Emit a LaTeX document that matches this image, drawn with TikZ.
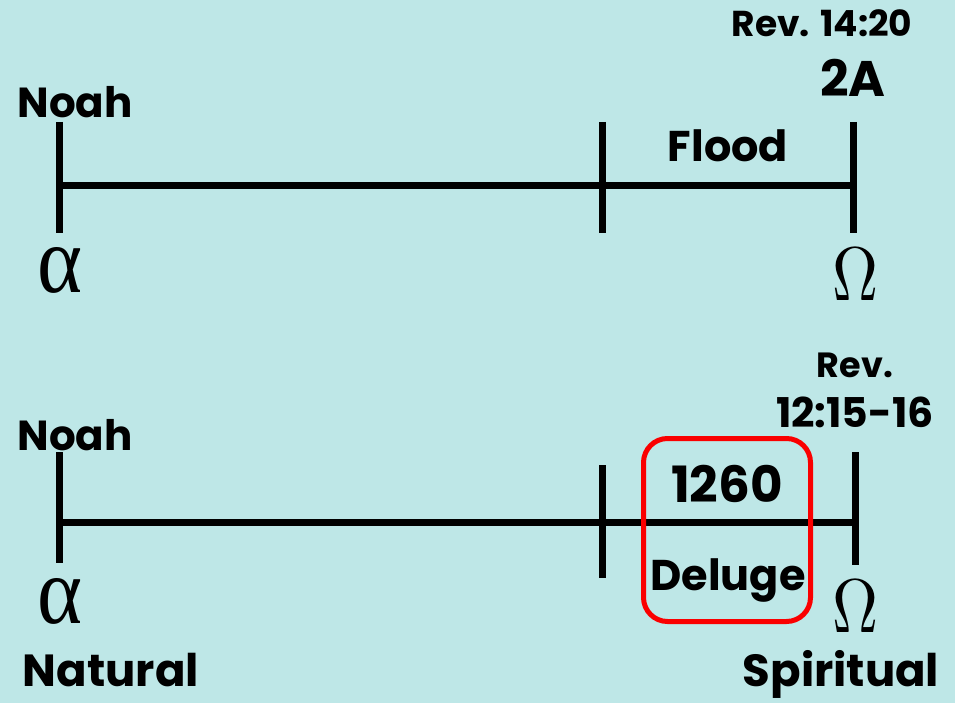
\documentclass[tikz,border=0pt]{standalone}
\usepackage{fontspec}
\setmainfont{Poppins}
\newfontfamily\serifgreek{Liberation Serif}
\usepackage{graphicx}
\definecolor{bgcyan}{RGB}{190,231,231}
\definecolor{boxred}{RGB}{250,0,0}

\begin{document}
\begin{tikzpicture}[x=1pt,y=-1pt]
  \tikzstyle{axis}=[line width=7pt]
  \tikzstyle{tick}=[line width=7pt]
  \tikzstyle{lbl}=[anchor=base,inner sep=0pt,font=\bfseries]
  \tikzstyle{greek}=[anchor=center,inner sep=0pt]
  \tikzstyle{redbox}=[draw=boxred,line width=5pt,rounded corners=24pt,
                      minimum width=167pt,minimum height=183pt]
  \fill[bgcyan] (0,0) rectangle (955,703);
  \useasboundingbox (0,0) rectangle (955,703);
  % natural timeline
  \coordinate (alphaA) at (59,186);
  \coordinate (omegaA) at (853,186);
  \draw[axis] (alphaA) -- (omegaA);
  % spiritual timeline
  \coordinate (alphaB) at (59,522);
  \coordinate (omegaB) at (858,522);
  \draw[axis] (alphaB) -- (omegaB);
  \foreach \x/\a/\b in {59/122/233,602/122/233,853/122/233,
                        59/452/563,602/465/578,855/452/565}
    \draw[tick] (\x,\a) -- (\x,\b);
  \node[redbox] (deluge) at (727,530) {};
  % labels
  \node[lbl,font=\bfseries\fontsize{42}{42}\selectfont] (noahA) at (75,118) {Noah};
  \node[lbl,font=\bfseries\fontsize{36}{36}\selectfont] (revA) at (822,37) {Rev. 14:20};
  \node[lbl,font=\bfseries\fontsize{50}{50}\selectfont] (twoA) at (853,97) {2A};
  \node[lbl,font=\bfseries\fontsize{43}{43}\selectfont] (flood) at (728,162) {Flood};
  \node[greek] (alA) at (60,270) {\resizebox{45pt}{45pt}{\serifgreek α}};
  \node[greek] (omA) at (855,274) {\resizebox{46pt}{52pt}{$\Omega$}};
  \node[lbl,font=\bfseries\fontsize{42}{42}\selectfont] (noahB) at (75,450) {Noah};
  \node[lbl,font=\bfseries\fontsize{35}{35}\selectfont] (revB) at (855,377) {Rev.};
  \node[lbl,font=\bfseries\fontsize{41}{41}\selectfont] (verse) at (855,427) {12:15-16};
  \node[lbl,font=\bfseries\fontsize{50}{50}\selectfont] (days) at (727,502) {1260};
  \node[lbl,font=\bfseries\fontsize{43}{43}\selectfont] (delugeT) at (728,590) {Deluge};
  \node[greek] (alB) at (60,601) {\resizebox{45pt}{45pt}{\serifgreek α}};
  \node[greek] (omB) at (855,606) {\resizebox{46pt}{52pt}{$\Omega$}};
  \node[lbl,font=\bfseries\fontsize{45}{45}\selectfont] (natural) at (111,686) {Natural};
  \node[lbl,font=\bfseries\fontsize{45}{45}\selectfont] (spiritual) at (841,686) {Spiritual};
\end{tikzpicture}
\end{document}
